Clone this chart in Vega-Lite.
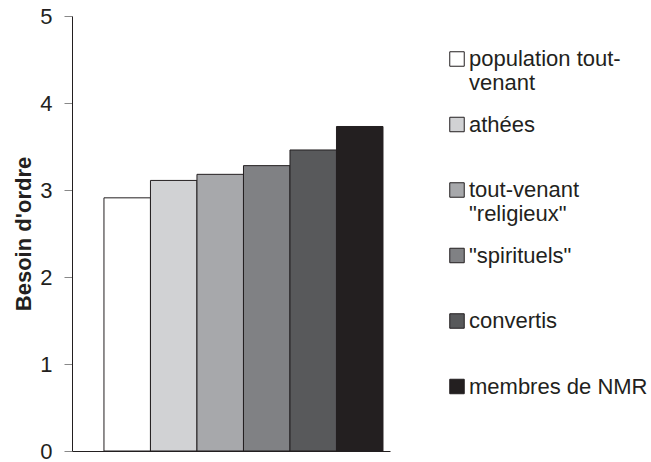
{
  "$schema": "https://vega.github.io/schema/vega-lite/v6.json",
  "width": 318,
  "height": 435,
  "autosize": {"type": "none"},
  "padding": {"left": 72, "top": 16, "right": 261, "bottom": 11},
  "background": "white",
  "config": {
    "font": "Liberation Sans",
    "view": {"stroke": null}
  },
  "data": {
    "values": [
      {"groupe": "population tout-venant", "valeur": 2.91},
      {"groupe": "athées", "valeur": 3.11},
      {"groupe": "tout-venant \"religieux\"", "valeur": 3.18},
      {"groupe": "\"spirituels\"", "valeur": 3.28},
      {"groupe": "convertis", "valeur": 3.46},
      {"groupe": "membres de NMR", "valeur": 3.73}
    ]
  },
  "mark": {"type": "bar", "stroke": "#231f20", "strokeWidth": 1},
  "encoding": {
    "x": {
      "field": "groupe",
      "type": "nominal",
      "sort": null,
      "scale": {"paddingInner": 0, "paddingOuter": 0.419, "align": 0.82},
      "axis": {"labels": false, "ticks": false, "title": null, "domainColor": "#231f20", "domainWidth": 1}
    },
    "y": {
      "field": "valeur",
      "type": "quantitative",
      "scale": {"domain": [0, 5], "nice": false},
      "axis": {
        "values": [0, 1, 2, 3, 4, 5],
        "grid": false,
        "title": "Besoin d'ordre",
        "titleFontSize": 22,
        "titleFontWeight": "bold",
        "titleColor": "#231f20",
        "titlePadding": 4,
        "labelFontSize": 22,
        "labelColor": "#231f20",
        "labelPadding": 12,
        "tickSize": 8,
        "tickColor": "#888888",
        "domainColor": "#231f20"
      }
    },
    "color": {
      "field": "groupe",
      "type": "nominal",
      "sort": null,
      "scale": {
        "domain": ["population tout-venant", "athées", "tout-venant \"religieux\"", "\"spirituels\"", "convertis", "membres de NMR"],
        "range": ["#ffffff", "#d1d2d4", "#a7a8ab", "#808184", "#58595b", "#231f20"]
      },
      "legend": {
        "title": null,
        "orient": "none",
        "legendX": 374,
        "legendY": 32,
        "padding": 0,
        "symbolType": "square",
        "symbolSize": 210,
        "symbolStrokeColor": "#231f20",
        "symbolStrokeWidth": 1,
        "labelFontSize": 22,
        "labelColor": "#231f20",
        "labelLimit": 300,
        "labelOffset": 1,
        "labelLineHeight": 26.5,
        "labelBaseline": "middle",
        "gridAlign": "all",
        "rowPadding": 19.5,
        "labelExpr": "datum.label == 'population tout-venant' ? ['population tout-', 'venant'] : datum.label == 'tout-venant \"religieux\"' ? ['tout-venant', '\"religieux\"'] : datum.label"
      }
    }
  }
}
